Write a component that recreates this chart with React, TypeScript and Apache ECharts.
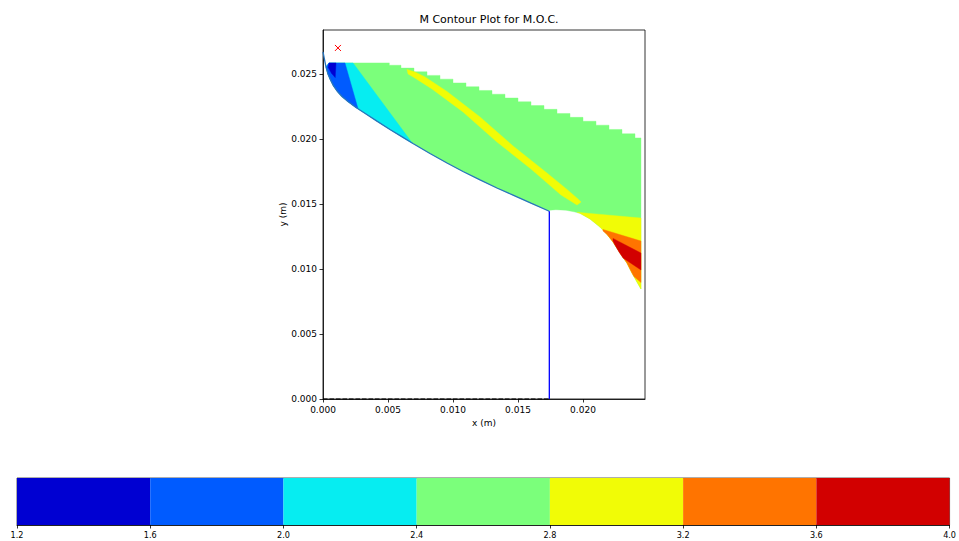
import React, { useEffect, useRef } from 'react';
import * as echarts from 'echarts';

// Mach number bands of the filled contour and their jet colours
const LEVELS = [1.2, 1.6, 2.0, 2.4, 2.8, 3.2, 3.6, 4.0];
const LEVEL_COLORS = ['#0000d2', '#005bff', '#06edf1', '#7bff7b', '#f1fc06', '#ff7400', '#d20000'];

const X_TICKS = [0, 0.005, 0.01, 0.015, 0.02];
const Y_TICKS = [0, 0.005, 0.01, 0.015, 0.02, 0.025];
const X_MAX = 0.02477;
const Y_MAX = 0.02838;

// nozzle wall contour (m)
const WALL_X = [0, 0.00012, 0.00023, 0.00038, 0.00058, 0.00081, 0.00108, 0.00146, 0.00192, 0.00254, 0.00331, 0.00415, 0.00515, 0.00615, 0.00692, 0.00823, 0.00954, 0.01077, 0.01208, 0.01338, 0.01462, 0.016, 0.01741];
const WALL_Y = [0.02669, 0.02608, 0.02554, 0.025, 0.02454, 0.02408, 0.02369, 0.02327, 0.02288, 0.02242, 0.02192, 0.02137, 0.02073, 0.02012, 0.01965, 0.01888, 0.01815, 0.0175, 0.01685, 0.01623, 0.01568, 0.01506, 0.01444];

// exit plane and centreline
const EXIT_X = 0.01741;
const EXIT_Y = 0.01444;

// initial-line marker
const MARKER = [0.00115, 0.027];

// upper edge of the characteristic mesh: [start x, y] of each flat step
const MESH_TOP_STEPS: number[][] = [
  [0.00046, 0.02585], [0.0051, 0.02567], [0.006, 0.02545], [0.007, 0.02517], [0.008, 0.02489],
  [0.009, 0.0246], [0.01, 0.02431], [0.011, 0.02402], [0.012, 0.02373], [0.013, 0.02344],
  [0.014, 0.02315], [0.015, 0.02286], [0.016, 0.02257], [0.017, 0.02228], [0.018, 0.02196],
  [0.019, 0.02166], [0.02, 0.02136], [0.021, 0.02106], [0.022, 0.02073], [0.023, 0.0204], [0.024, 0.02008],
];
const MESH_RIGHT_X = 0.02446;

// lower edge of the mesh past the exit, running outward from the exit corner
const MESH_LOWER: number[][] = [
  [0.01742, 0.01452], [0.01792, 0.01456], [0.01869, 0.01452], [0.01931, 0.01440], [0.01977, 0.01428],
  [0.02054, 0.01385], [0.02131, 0.01322], [0.02185, 0.01266], [0.02231, 0.01208], [0.02285, 0.01123],
  [0.02338, 0.01046], [0.02377, 0.00969], [0.02415, 0.009], [0.02446, 0.00846],
];

// band boundaries that end on the wall (from the top edge down to the wall)
const CYAN_EDGE = [[0.00046, 0.02585], [0.00231, 0.02585], [0.00688, 0.01967]];
const BLUE_EDGE = [[0.00046, 0.02585], [0.00169, 0.02585], [0.00269, 0.02234]];
const DARK_BLUE_ZONE = [[0.00046, 0.02585], [0.001, 0.02585], [0.00094, 0.02472], [0.00065, 0.02505], [0.0004, 0.0255]];

// M > 2.8 streak running across the mesh
const YELLOW_STREAK = [
  [0.00646, 0.02535], [0.00708, 0.02515], [0.00785, 0.02477], [0.00954, 0.02365], [0.01208, 0.02169],
  [0.01462, 0.01946], [0.01723, 0.01738], [0.01877, 0.01612], [0.01962, 0.01538], [0.01985, 0.01515],
  [0.01954, 0.01492], [0.01831, 0.01569], [0.016, 0.01769], [0.01338, 0.01977], [0.01077, 0.02208],
  [0.00838, 0.02385], [0.007, 0.02473], [0.00654, 0.025],
];
// M > 2.8 region below the green band, closed along the lower mesh edge
const YELLOW_LOWER_EDGE = [[0.01955, 0.01436], [0.02054, 0.01427], [0.02446, 0.01392], [0.02446, 0.00846]];
const ORANGE_ZONE = [
  [0.02154, 0.01304], [0.02446, 0.01215], [0.02446, 0.00896], [0.02392, 0.00942], [0.02377, 0.00969],
  [0.02338, 0.01046], [0.02285, 0.01123], [0.02231, 0.01208], [0.02185, 0.01266], [0.02154, 0.01292],
];
const RED_ZONE = [
  [0.02231, 0.01235], [0.02446, 0.01123], [0.02446, 0.00992], [0.02308, 0.01085], [0.02277, 0.01131],
  [0.02246, 0.01185], [0.02231, 0.01215],
];

const FONT = "'DejaVu Sans', sans-serif";
const BAR_FONT = "'DejaVu Sans Condensed', 'Liberation Sans Narrow', 'DejaVu Sans', sans-serif";

const TOP_Y = MESH_TOP_STEPS[0][1];
const wallPoints = WALL_X.map((x, i) => [x, WALL_Y[i]]);

// wall points from x = xEnd back up to the top of the mesh
function wallUpFrom(xEnd: number): number[][] {
  return wallPoints.filter(([x, y]) => x <= xEnd && y < TOP_Y).reverse();
}

function buildRegions() {
  const top: number[][] = [];
  MESH_TOP_STEPS.forEach(([x, y], i) => {
    const xNext = i + 1 < MESH_TOP_STEPS.length ? MESH_TOP_STEPS[i + 1][0] : MESH_RIGHT_X;
    top.push([x, y], [xNext, y]);
  });
  const mesh = [...top, ...MESH_LOWER.slice().reverse(), ...wallUpFrom(EXIT_X)];
  const yellowLower = [
    ...YELLOW_LOWER_EDGE,
    ...MESH_LOWER.filter(([x]) => x > YELLOW_LOWER_EDGE[0][0] && x < MESH_RIGHT_X).reverse(),
  ];
  return [
    { level: 3, pts: mesh },
    { level: 2, pts: [...CYAN_EDGE, ...wallUpFrom(CYAN_EDGE[2][0])] },
    { level: 1, pts: [...BLUE_EDGE, ...wallUpFrom(BLUE_EDGE[2][0])] },
    { level: 0, pts: DARK_BLUE_ZONE },
    { level: 4, pts: YELLOW_STREAK },
    { level: 4, pts: yellowLower },
    { level: 5, pts: ORANGE_ZONE },
    { level: 6, pts: RED_ZONE },
  ];
}

export default function App() {
  const ref = useRef<HTMLDivElement>(null);

  useEffect(() => {
    if (!ref.current) return;
    const chart = echarts.init(ref.current, null, { renderer: 'svg' });
    const regions = buildRegions();
    const tickText = { fontFamily: FONT, fontSize: 9, color: '#000' };
    const axisLine = { show: true, onZero: false, lineStyle: { color: '#000', width: 0.8 } };

    const option: any = {
      animation: false,
      backgroundColor: '#fff',
      title: {
        text: 'M Contour Plot for M.O.C.',
        left: 484,
        top: 9,
        textAlign: 'center',
        textStyle: { fontFamily: FONT, fontSize: 11, fontWeight: 'normal', color: '#000' },
      },
      grid: [
        { left: 323, top: 30, width: 322, height: 369, show: true, borderColor: '#000', borderWidth: 0.8 },
        { left: 17, top: 478, width: 935, height: 47, show: true, borderColor: '#333', borderWidth: 0.8 },
      ],
      xAxis: [
        {
          type: 'value', gridIndex: 0, min: 0, max: X_MAX,
          name: 'x (m)', nameLocation: 'middle', nameGap: 19,
          nameTextStyle: tickText,
          axisLine,
          axisTick: { show: true, length: 3.5, customValues: X_TICKS, lineStyle: { color: '#000', width: 0.8 } },
          axisLabel: { customValues: X_TICKS, formatter: (v: number) => v.toFixed(3), margin: 6, ...tickText },
          splitLine: { show: false },
        },
        {
          type: 'value', gridIndex: 1, min: 1.2, max: 4.0, interval: 0.4,
          axisLine: { show: true, onZero: false, lineStyle: { color: '#000', width: 0.8 } },
          axisTick: { show: true, length: 3.5, customValues: LEVELS, lineStyle: { color: '#000', width: 0.8 } },
          axisLabel: {
            customValues: LEVELS, formatter: (v: number) => v.toFixed(1), margin: 5,
            fontFamily: BAR_FONT, fontSize: 9, color: '#000',
          },
          splitLine: { show: false },
        },
      ],
      yAxis: [
        {
          type: 'value', gridIndex: 0, min: 0, max: Y_MAX,
          name: 'y (m)', nameLocation: 'middle', nameGap: 36,
          nameTextStyle: tickText,
          axisLine,
          axisTick: { show: true, length: 3.5, customValues: Y_TICKS, lineStyle: { color: '#000', width: 0.8 } },
          axisLabel: { customValues: Y_TICKS, formatter: (v: number) => v.toFixed(3), margin: 6, ...tickText },
          splitLine: { show: false },
        },
        { type: 'value', gridIndex: 1, min: 0, max: 1, show: false },
      ],
      series: [
        {
          type: 'custom',
          xAxisIndex: 0, yAxisIndex: 0, z: 1, silent: true,
          data: regions.map((r) => [r.pts[0][0], r.pts[0][1]]),
          renderItem: (params: any, api: any) => {
            const r = regions[params.dataIndex];
            const c = LEVEL_COLORS[r.level];
            return {
              type: 'polygon',
              z2: params.dataIndex,
              shape: { points: r.pts.map((p) => api.coord(p)) },
              style: { fill: c, stroke: c, lineWidth: 0.4 },
            };
          },
        },
        {
          type: 'line', xAxisIndex: 0, yAxisIndex: 0, z: 3, silent: true,
          data: wallPoints, showSymbol: false, symbol: 'none', clip: false,
          lineStyle: { color: '#2874bd', width: 1.3 },
        },
        {
          type: 'line', xAxisIndex: 0, yAxisIndex: 0, z: 3, silent: true,
          data: [[EXIT_X, EXIT_Y], [EXIT_X, 0]], showSymbol: false, symbol: 'none',
          lineStyle: { color: '#0000ff', width: 1.3 },
        },
        {
          type: 'line', xAxisIndex: 0, yAxisIndex: 0, z: 4, silent: true,
          data: [[0, 0], [EXIT_X, 0]], showSymbol: false, symbol: 'none', clip: false,
          lineStyle: { color: '#000', width: 1.2, type: [4.5, 2] },
        },
        {
          type: 'custom', xAxisIndex: 0, yAxisIndex: 0, z: 5, silent: true,
          data: [MARKER],
          renderItem: (_p: any, api: any) => {
            const [cx, cy] = api.coord([api.value(0), api.value(1)]);
            const s = 3;
            const style = { stroke: '#ff0000', lineWidth: 1 };
            return {
              type: 'group',
              children: [
                { type: 'line', shape: { x1: cx - s, y1: cy - s, x2: cx + s, y2: cy + s }, style },
                { type: 'line', shape: { x1: cx - s, y1: cy + s, x2: cx + s, y2: cy - s }, style },
              ],
            };
          },
        },
        {
          type: 'custom', xAxisIndex: 1, yAxisIndex: 1, z: 1, silent: true,
          data: LEVEL_COLORS.map((_c, i) => [LEVELS[i], LEVELS[i + 1]]),
          encode: { x: [0, 1] },
          renderItem: (params: any, api: any) => {
            const p0 = api.coord([api.value(0), 1]);
            const p1 = api.coord([api.value(1), 0]);
            return {
              type: 'rect',
              shape: { x: p0[0], y: p0[1], width: p1[0] - p0[0], height: p1[1] - p0[1] },
              style: { fill: LEVEL_COLORS[params.dataIndex] },
            };
          },
        },
      ],
    };

    chart.setOption(option);
    return () => chart.dispose();
  }, []);

  return (
    <div
      ref={ref}
      style={{ position: 'absolute', left: 0, top: 0, width: 959, height: 541, background: '#fff' }}
    />
  );
}
